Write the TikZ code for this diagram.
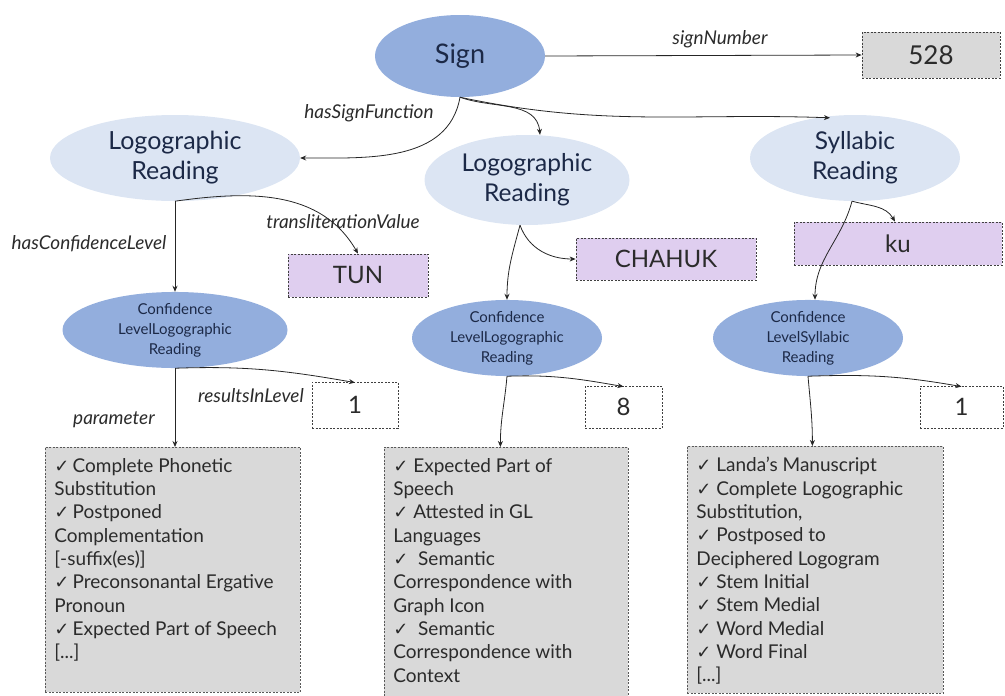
\documentclass[tikz,border=0pt]{standalone}
\usepackage{fontspec}
\setmainfont{Lato}
\newfontfamily\djv{DejaVu Sans}
\usetikzlibrary{arrows.meta,shapes.geometric}
\definecolor{midblue}{HTML}{93AEDD}
\definecolor{lightblue}{HTML}{DCE5F3}
\definecolor{lav}{HTML}{DFCEEF}
\definecolor{boxgray}{HTML}{D9D9D9}
\definecolor{navy}{HTML}{1C2947}
\definecolor{txt}{HTML}{2B2B2B}
\newcommand{\ck}{{\djv\fontsize{18}{20}\selectfont ✓}}
\tikzset{
  darkell/.style={ellipse, fill=midblue, draw=none, inner sep=0pt, align=center, text=navy},
  lightell/.style={ellipse, fill=lightblue, draw=none, inner sep=0pt, align=center, text=navy},
  valbox/.style={rectangle, draw=black!75, dash pattern=on 2pt off 1.5pt, line width=0.8pt, inner sep=0pt, text=txt},
  listbox/.style={rectangle, draw=black!65, dash pattern=on 2pt off 1.5pt, line width=0.8pt, fill=boxgray, inner sep=0pt, anchor=north west, text=txt},
  arr/.style={-{Stealth[length=6pt,width=5pt]}, line width=0.8pt, draw=black!85},
  lbl/.style={font=\itshape\fontsize{19}{22}\selectfont, text=txt, inner sep=1pt}
}
\newcommand{\listtext}[3]{\parbox[t][#2][t]{#1}{\fontsize{19}{23.3}\selectfont #3}}
\begin{document}
\begin{tikzpicture}[x=1pt,y=-1pt]
\useasboundingbox (0,0) rectangle (1005,696);

% top
\node[darkell, minimum width=170pt, minimum height=82pt, font=\fontsize{27}{30}\selectfont] (sign) at (460,56) {Sign};
\node[valbox, fill=boxgray, minimum width=138pt, minimum height=46pt, font=\fontsize{26}{30}\selectfont] (n528) at (931,55) {528};

% readings
\node[lightell, minimum width=250pt, minimum height=86pt, font=\fontsize{25}{30}\selectfont] (lr1) at (175,158) {Logographic\\Reading};
\node[lightell, minimum width=205pt, minimum height=90pt, font=\fontsize{24.5}{30}\selectfont] (lr2) at (527,180) {Logographic\\Reading};
\node[lightell, minimum width=210pt, minimum height=86pt, font=\fontsize{24.5}{30}\selectfont] (syl) at (855,158) {Syllabic\\Reading};

% transliteration values
\node[valbox, fill=lav, minimum width=140pt, minimum height=43pt, font=\fontsize{24}{28}\selectfont] (tun) at (358,275.5) {TUN};
\node[valbox, fill=lav, minimum width=180pt, minimum height=42pt, font=\fontsize{24}{28}\selectfont] (chahuk) at (666,259) {CHAHUK};
\node[valbox, fill=lav, minimum width=208pt, minimum height=43pt, font=\fontsize{24}{28}\selectfont] (ku) at (898,243.5) {ku};

% confidence ellipses
\node[darkell, minimum width=225pt, minimum height=76pt, font=\fontsize{15}{20}\selectfont] (cf1) at (175,330) {Confidence\\LevelLogographic\\Reading};
\node[darkell, minimum width=190pt, minimum height=76pt, font=\fontsize{15}{20}\selectfont] (cf2) at (507,338) {Confidence\\LevelLogographic\\Reading};
\node[darkell, minimum width=190pt, minimum height=76pt, font=\fontsize{15}{20}\selectfont] (cf3) at (808,338) {Confidence\\LevelSyllabic\\Reading};

% levels
\node[valbox, fill=white, minimum width=86pt, minimum height=46pt, font=\fontsize{24}{28}\selectfont] (v1) at (355,405) {1};
\node[valbox, fill=white, minimum width=77pt, minimum height=42pt, font=\fontsize{24}{28}\selectfont] (v8) at (623.5,407) {8};
\node[valbox, fill=white, minimum width=83pt, minimum height=42pt, font=\fontsize{24}{28}\selectfont] (v1r) at (961.5,407) {1};

% lists
\node[listbox, minimum width=255pt, minimum height=245pt, inner xsep=9pt, inner ysep=11pt] (l1) at (45,447)
  {\listtext{237pt}{223pt}{\ck\,Complete Phonetic\\Substitution\\\ck\,Postponed\\Complementation\\{}[-suffix(es)]\\\ck\,Preconsonantal Ergative\\Pronoun\\\ck\,Expected Part of Speech\\{}[...]}};
\node[listbox, minimum width=244pt, minimum height=252pt, inner xsep=9pt, inner ysep=11pt] (l2) at (384,447)
  {\listtext{226pt}{230pt}{\ck\ Expected Part of\\Speech\\\ck\ Attested in GL\\Languages\\\ck\ \ Semantic\\Correspondence with\\Graph Icon\\\ck\ \ Semantic\\Correspondence with\\Context}};
\node[listbox, minimum width=256pt, minimum height=247pt, inner xsep=9pt, inner ysep=11pt] (l3) at (687,446)
  {\listtext{238pt}{225pt}{\ck\ Landa's Manuscript\\\ck\ Complete Logographic\\Substitution,\\\ck\ Postposed to\\Deciphered Logogram\\\ck\ Stem Initial\\\ck\ Stem Medial\\\ck\ Word Medial\\\ck\ Word Final\\{}[...]}};

% connectors
\draw[arr] (sign.east) -- (n528.west);
\draw[arr] (sign.south) to[out=-100,in=0] (lr1.east);
\draw[arr] (sign.south) to[out=-20,in=95] ([xshift=13pt]lr2.north);
\draw[arr] (sign.south) to[out=-12,in=178] ([xshift=-25pt,yshift=-3pt]syl.north);

\draw[arr] (lr1.south) -- (cf1.north);
\draw[arr] (lr1.south) to[out=8,in=120] (tun.north);

\draw[arr] ([xshift=-7pt]lr2.south) to[out=-70,in=180] (chahuk.west);
\draw[arr] ([xshift=-7pt]lr2.south) to[out=-105,in=90] (cf2.north);

\draw[arr] ([xshift=-3pt]syl.south) to[out=-15,in=120] ([xshift=-3pt]ku.north);
\draw[arr] ([xshift=-3pt]syl.south) to[out=-105,in=90] ([xshift=7pt]cf3.north);

\draw[arr] (cf1.south) -- (l1.north -| cf1.south);
\draw[arr] (cf1.south) to[out=2,in=170] ([yshift=-1pt]v1.north);

\draw[arr] (cf2.south) to[out=-95,in=90] ([xshift=-6pt]l2.north);
\draw[arr] (cf2.south) to[out=2,in=170] ([yshift=-1pt]v8.north);

\draw[arr] (cf3.south) to[out=-85,in=90] ([xshift=-3pt]l3.north);
\draw[arr] (cf3.south) to[out=2,in=170] ([yshift=-1pt]v1r.north);

% labels
\node[lbl] (tSN) at (720,39) {signNumber};
\node[lbl] (tHSF) at (369,113) {hasSignFunction};
\node[lbl] (tTV) at (343,222) {transliterationValue};
\node[lbl] (tHCL) at (89,244) {hasConfidenceLevel};
\node[lbl] (tRIL) at (251,396) {resultsInLevel};
\node[lbl] (tPar) at (114,420) {parameter};
\end{tikzpicture}
\end{document}
